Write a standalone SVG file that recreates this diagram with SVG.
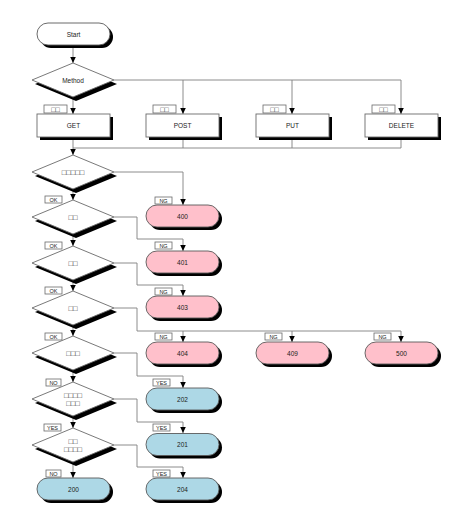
<svg xmlns="http://www.w3.org/2000/svg" xmlns:xlink="http://www.w3.org/1999/xlink" width="474" height="524" viewBox="0 0 474 524">
<style>
.bg{fill:#ffffff}
.sh{fill:#000000;stroke:none}
.dia{fill:#ffffff;stroke:#6a6a6a;stroke-width:0.9}
.box{fill:#ffffff;stroke:#6a6a6a;stroke-width:0.9}
.term{fill:#ffffff;stroke:#5a5a5a;stroke-width:0.9}
.ng{fill:#ffc0cb;stroke:#5a5a5a;stroke-width:0.9}
.ok{fill:#add8e6;stroke:#5a5a5a;stroke-width:0.9}
.lbl{fill:#ffffff;stroke:#6a6a6a;stroke-width:0.8}
text{font-family:"Liberation Sans",Arial,"Noto Sans CJK JP",sans-serif;font-size:6.5px;fill:#222222;text-anchor:middle;dominant-baseline:central}
.lt{font-size:5.5px}
.tf{font-size:7.5px;fill:#333333}
.ltf{font-size:7px;fill:#333333}
.conn path{fill:none;stroke:#808080;stroke-width:0.9}
</style>
<defs>
<marker id="ah" viewBox="0 0 6 6" refX="6" refY="3" markerWidth="6" markerHeight="6" markerUnits="userSpaceOnUse" orient="auto">
<path d="M0,0.2 L6,3 L0,5.8 Z" fill="#000000"/>
</marker>
<polygon id="dshape" points="-41,0 0,-17 41,0 0,17"/>
<rect id="tshape" x="-36.5" y="-11" width="73" height="22" rx="11" ry="11"/>
<rect id="bshape" x="-36.5" y="-11.5" width="73" height="23"/>
</defs>
<rect class="bg" x="0" y="0" width="474" height="524"/>

<g class="conn" id="connectors">
<path d="M73,45 V63" marker-end="url(#ah)"/>
<path d="M73,97 V114" marker-end="url(#ah)"/>
<path d="M114,80 H401"/>
<path d="M183,80 V114" marker-end="url(#ah)"/>
<path d="M292,80 V114" marker-end="url(#ah)"/>
<path d="M401,80 V114" marker-end="url(#ah)"/>
<path d="M73,137 V155" marker-end="url(#ah)"/>
<path d="M73,148 H401"/>
<path d="M183,137 V148"/>
<path d="M292,137 V148"/>
<path d="M401,137 V148"/>
<path d="M114,172 H183 V205" marker-end="url(#ah)"/>
<path d="M73,189 V200" marker-end="url(#ah)"/>
<path d="M114,217 H137 V239 H183 V251" marker-end="url(#ah)"/>
<path d="M73,234 V246" marker-end="url(#ah)"/>
<path d="M114,263 H137 V285 H183 V296" marker-end="url(#ah)"/>
<path d="M73,280 V291" marker-end="url(#ah)"/>
<path d="M114,308 H137 V331 H401"/>
<path d="M183,331 V342" marker-end="url(#ah)"/>
<path d="M292,331 V342" marker-end="url(#ah)"/>
<path d="M401,331 V342" marker-end="url(#ah)"/>
<path d="M73,325 V336" marker-end="url(#ah)"/>
<path d="M114,353 H137 V376 H183 V388" marker-end="url(#ah)"/>
<path d="M73,370 V382" marker-end="url(#ah)"/>
<path d="M114,399 H137 V422 H183 V433" marker-end="url(#ah)"/>
<path d="M73,416 V428" marker-end="url(#ah)"/>
<path d="M114,445 H137 V467 H183 V478" marker-end="url(#ah)"/>
<path d="M73,462 V478" marker-end="url(#ah)"/>
</g>

<g id="labels">
<rect class="lbl" x="44" y="105" width="23" height="8"/><text class="ltf" x="55.5" y="109">□□</text>
<rect class="lbl" x="153" y="105" width="23" height="8"/><text class="ltf" x="164.5" y="109">□□</text>
<rect class="lbl" x="263" y="105" width="23" height="8"/><text class="ltf" x="274.5" y="109">□□</text>
<rect class="lbl" x="372" y="105" width="23" height="8"/><text class="ltf" x="383.5" y="109">□□</text>
<rect class="lbl" x="155" y="197" width="17" height="7"/><text class="lt" x="163.5" y="200.5">NG</text>
<rect class="lbl" x="45" y="196" width="17" height="7"/><text class="lt" x="53.5" y="199.5">OK</text>
<rect class="lbl" x="155" y="242" width="17" height="7"/><text class="lt" x="163.5" y="245.5">NG</text>
<rect class="lbl" x="45" y="242" width="17" height="7"/><text class="lt" x="53.5" y="245.5">OK</text>
<rect class="lbl" x="155" y="288" width="17" height="7"/><text class="lt" x="163.5" y="291.5">NG</text>
<rect class="lbl" x="45" y="287" width="17" height="7"/><text class="lt" x="53.5" y="290.5">OK</text>
<rect class="lbl" x="155" y="333" width="17" height="7"/><text class="lt" x="163.5" y="336.5">NG</text>
<rect class="lbl" x="265" y="333" width="17" height="7"/><text class="lt" x="273.5" y="336.5">NG</text>
<rect class="lbl" x="374" y="333" width="17" height="7"/><text class="lt" x="382.5" y="336.5">NG</text>
<rect class="lbl" x="45" y="333" width="17" height="7"/><text class="lt" x="53.5" y="336.5">OK</text>
<rect class="lbl" x="153" y="379" width="17" height="7"/><text class="lt" x="161.5" y="382.5">YES</text>
<rect class="lbl" x="46" y="379" width="15" height="7"/><text class="lt" x="53.5" y="382.5">NO</text>
<rect class="lbl" x="153" y="424" width="17" height="7"/><text class="lt" x="161.5" y="427.5">YES</text>
<rect class="lbl" x="44" y="424" width="17" height="7"/><text class="lt" x="52.5" y="427.5">YES</text>
<rect class="lbl" x="153" y="470" width="17" height="7"/><text class="lt" x="161.5" y="473.5">YES</text>
<rect class="lbl" x="46" y="470" width="15" height="7"/><text class="lt" x="53.5" y="473.5">NO</text>
</g>

<g id="start" transform="translate(73.5,34)">
<use xlink:href="#tshape" class="sh" x="3" y="3"/><use xlink:href="#tshape" class="term"/><text x="0" y="0">Start</text>
</g>
<g id="method" transform="translate(73,80)">
<use xlink:href="#dshape" class="sh" x="3" y="4"/><use xlink:href="#dshape" class="dia"/><text x="0" y="0">Method</text>
</g>
<g id="get" transform="translate(73.5,125.5)">
<use xlink:href="#bshape" class="sh" x="3" y="3"/><use xlink:href="#bshape" class="box"/><text x="0" y="0">GET</text>
</g>
<g id="post" transform="translate(182.5,125.5)">
<use xlink:href="#bshape" class="sh" x="3" y="3"/><use xlink:href="#bshape" class="box"/><text x="0" y="0">POST</text>
</g>
<g id="put" transform="translate(292.5,125.5)">
<use xlink:href="#bshape" class="sh" x="3" y="3"/><use xlink:href="#bshape" class="box"/><text x="0" y="0">PUT</text>
</g>
<g id="delete" transform="translate(401.5,125.5)">
<use xlink:href="#bshape" class="sh" x="3" y="3"/><use xlink:href="#bshape" class="box"/><text x="0" y="0">DELETE</text>
</g>
<g id="d1" transform="translate(73,172)">
<use xlink:href="#dshape" class="sh" x="3" y="4"/><use xlink:href="#dshape" class="dia"/><text class="tf" x="0" y="0">□□□□□</text>
</g>
<g id="d2" transform="translate(73,217)">
<use xlink:href="#dshape" class="sh" x="3" y="4"/><use xlink:href="#dshape" class="dia"/><text class="tf" x="0" y="0">□□</text>
</g>
<g id="d3" transform="translate(73,263)">
<use xlink:href="#dshape" class="sh" x="3" y="4"/><use xlink:href="#dshape" class="dia"/><text class="tf" x="0" y="0">□□</text>
</g>
<g id="d4" transform="translate(73,308)">
<use xlink:href="#dshape" class="sh" x="3" y="4"/><use xlink:href="#dshape" class="dia"/><text class="tf" x="0" y="0">□□</text>
</g>
<g id="d5" transform="translate(73,353)">
<use xlink:href="#dshape" class="sh" x="3" y="4"/><use xlink:href="#dshape" class="dia"/><text class="tf" x="0" y="0">□□□</text>
</g>
<g id="d6" transform="translate(73,399)">
<use xlink:href="#dshape" class="sh" x="3" y="4"/><use xlink:href="#dshape" class="dia"/><text class="tf" x="0" y="-4">□□□□</text><text class="tf" x="0" y="4">□□□</text>
</g>
<g id="d7" transform="translate(73,445)">
<use xlink:href="#dshape" class="sh" x="3" y="4"/><use xlink:href="#dshape" class="dia"/><text class="tf" x="0" y="-4">□□</text><text class="tf" x="0" y="4">□□□□</text>
</g>
<g id="t400" transform="translate(182.5,216)">
<use xlink:href="#tshape" class="sh" x="3" y="3"/><use xlink:href="#tshape" class="ng"/><text x="0" y="0">400</text>
</g>
<g id="t401" transform="translate(182.5,262)">
<use xlink:href="#tshape" class="sh" x="3" y="3"/><use xlink:href="#tshape" class="ng"/><text x="0" y="0">401</text>
</g>
<g id="t403" transform="translate(182.5,307)">
<use xlink:href="#tshape" class="sh" x="3" y="3"/><use xlink:href="#tshape" class="ng"/><text x="0" y="0">403</text>
</g>
<g id="t404" transform="translate(182.5,353)">
<use xlink:href="#tshape" class="sh" x="3" y="3"/><use xlink:href="#tshape" class="ng"/><text x="0" y="0">404</text>
</g>
<g id="t409" transform="translate(292.5,353)">
<use xlink:href="#tshape" class="sh" x="3" y="3"/><use xlink:href="#tshape" class="ng"/><text x="0" y="0">409</text>
</g>
<g id="t500" transform="translate(401.5,353)">
<use xlink:href="#tshape" class="sh" x="3" y="3"/><use xlink:href="#tshape" class="ng"/><text x="0" y="0">500</text>
</g>
<g id="t202" transform="translate(182.5,399)">
<use xlink:href="#tshape" class="sh" x="3" y="3"/><use xlink:href="#tshape" class="ok"/><text x="0" y="0">202</text>
</g>
<g id="t201" transform="translate(182.5,444.5)">
<use xlink:href="#tshape" class="sh" x="3" y="3"/><use xlink:href="#tshape" class="ok"/><text x="0" y="0">201</text>
</g>
<g id="t204" transform="translate(182.5,489)">
<use xlink:href="#tshape" class="sh" x="3" y="3"/><use xlink:href="#tshape" class="ok"/><text x="0" y="0">204</text>
</g>
<g id="t200" transform="translate(73.5,489)">
<use xlink:href="#tshape" class="sh" x="3" y="3"/><use xlink:href="#tshape" class="ok"/><text x="0" y="0">200</text>
</g>
</svg>
